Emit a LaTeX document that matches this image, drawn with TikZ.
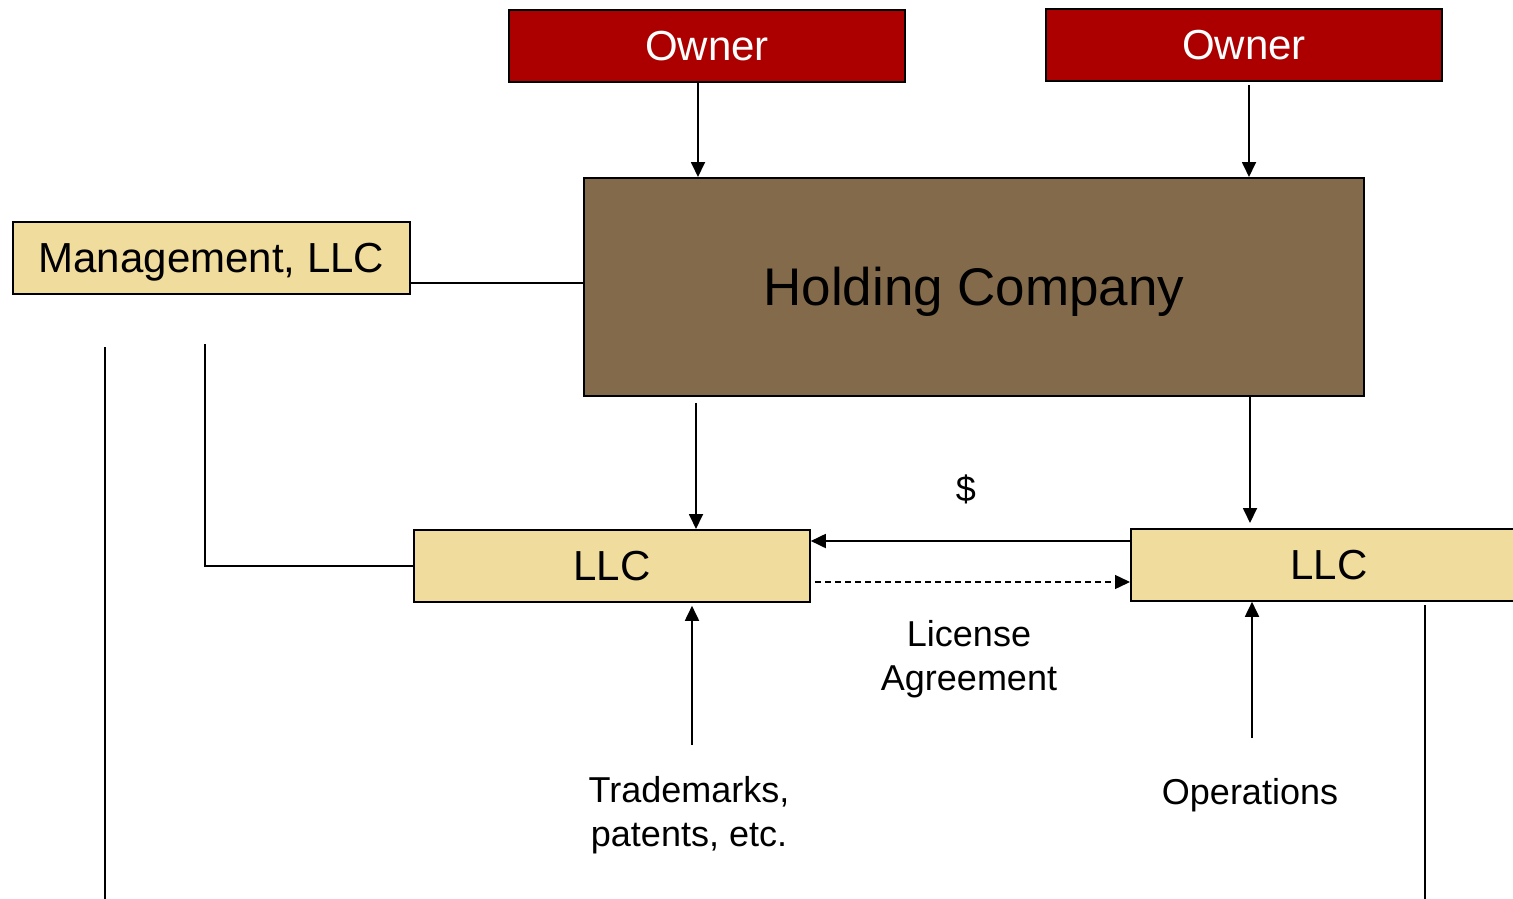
\documentclass[tikz,border=0pt]{standalone}
\usepackage{fontspec}
\setmainfont{Liberation Sans}
\usetikzlibrary{arrows.meta,calc}
\definecolor{ownerred}{HTML}{AC0000}
\definecolor{hbrown}{HTML}{836A4A}
\definecolor{llcfill}{HTML}{F0DC9C}
\begin{document}
\begin{tikzpicture}[x=1pt,y=-1pt,
 box/.style={draw=black,line width=1.8pt,inner sep=0pt,anchor=north west,text height=30pt,text depth=0pt},
 ownerbox/.style={box,fill=ownerred,text=white,font=\fontsize{42}{50}\selectfont,minimum width=396pt,minimum height=72pt},
 llcbox/.style={box,fill=llcfill,font=\fontsize{42}{50}\selectfont,minimum height=72pt},
 conn/.style={line width=1.8pt},
 arr/.style={conn,-{Triangle[length=15pt,width=14pt]}},
 lbl/.style={font=\fontsize{36}{44}\selectfont,align=center,inner sep=0pt}]
\useasboundingbox (0,0) rectangle (1513,899);
\clip (0,0) rectangle (1513,899);
% boxes
\node[ownerbox] (o1) at (508,9) {Owner};
\node[ownerbox] (o2) at (1045,8) {Owner};
\node[box,fill=hbrown,minimum width=780pt,minimum height=218pt,font=\fontsize{53}{60}\selectfont,text height=38pt] (h) at (583,177) {Holding Company};
\node[llcbox,minimum width=397pt] (m) at (12,221) {Management, LLC};
\node[llcbox,minimum width=396pt] (l1) at (413,529) {LLC};
\node[llcbox,minimum width=396pt] (l2) at (1130,528) {LLC};
% labels
\node[lbl] (d) at (966,489) {\$};
\node[lbl] (lic) at (969,659) {License\\Agreement};
\node[lbl] (tm) at (689,815) {Trademarks,\\patents, etc.};
\node[lbl] (op) at (1250,795) {Operations};
% helper coordinates
\coordinate (xa) at (698,0);
\coordinate (xb) at (1249,0);
\coordinate (xc) at (696,0);
\coordinate (xd) at (1250,0);
\coordinate (xe) at (692,0);
\coordinate (xf) at (1252,0);
\coordinate (ym) at (0,283);
\coordinate (y1) at (0,541);
\coordinate (y2) at (0,582);
\coordinate (tmtop) at (692,745);
\coordinate (optop) at (1252,738);
\coordinate (c1) at (105,347);
\coordinate (c2) at (105,899);
\coordinate (c3) at (205,344);
\coordinate (c4) at (1425,605);
\coordinate (c5) at (1425,899);
% connectors
\draw[arr] (o1.south -| xa) -- (h.north -| xa);
\draw[arr] ($(o2.south -| xb)+(0,3)$) -- (h.north -| xb);
\draw[conn] (m.east |- ym) -- (h.west |- ym);
\draw[arr] ($(h.south -| xc)+(0,6)$) -- (l1.north -| xc);
\draw[arr] (h.south -| xd) -- ($(l2.north -| xd)+(0,-5)$);
\draw[arr] (l2.west |- y1) -- (l1.east |- y1);
\draw[arr,line width=1.4pt,dash pattern=on 6pt off 4pt] ($(l1.east |- y2)+(4,0)$) -- (l2.west |- y2);
\draw[arr] (tmtop) -- ($(l1.south -| xe)+(0,3)$);
\draw[arr] (optop) -- (l2.south -| xf);
\draw[conn] (c1) -- (c2);
\draw[conn] (c3) |- (l1.west);
\draw[conn] (c4) -- (c5);
\end{tikzpicture}
\end{document}
